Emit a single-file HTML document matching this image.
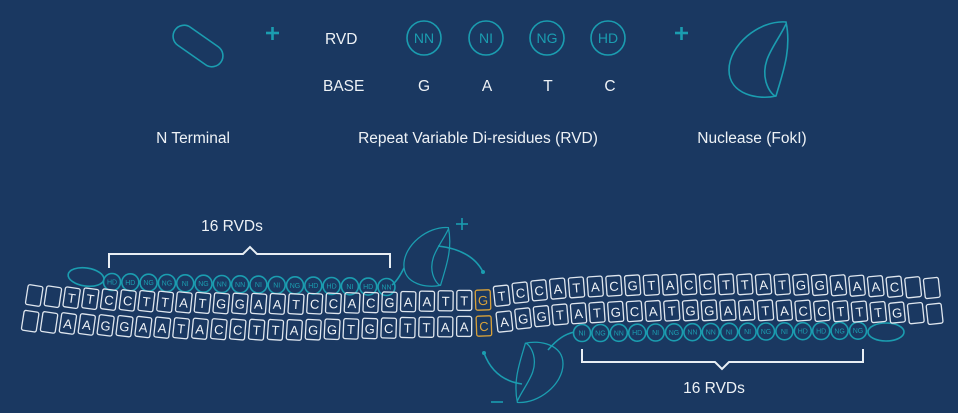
<!DOCTYPE html>
<html><head><meta charset="utf-8"><style>
html,body{margin:0;padding:0;background:#1a3861;}
svg{display:block}
text{font-family:"Liberation Sans",sans-serif;}
.w{fill:#eef2f6;font-size:15.5px}
.t{stroke:#1b9db0;fill:none;stroke-width:1.6}
.tt{fill:#1b9db0;font-size:7px;text-anchor:middle}
.c rect{fill:none;stroke:#dfe6ee;stroke-width:1.3}
.c text{fill:#eef2f6;font-size:13px;text-anchor:middle}
.c .o{stroke:#d9a23a}
.c .ot{fill:#d9a23a}
</style></head><body>
<svg width="958" height="413" viewBox="0 0 958 413" xmlns="http://www.w3.org/2000/svg">
<rect width="958" height="413" fill="#1a3861"/>
<rect x="170" y="35" width="56" height="22" rx="11" transform="rotate(35 198 46)" class="t" stroke-width="1.8"/>
<g stroke="#1b9db0" stroke-width="2.6"><line x1="266" y1="33" x2="279" y2="33"/><line x1="272.5" y1="27" x2="272.5" y2="40"/>
<line x1="675" y1="33" x2="688" y2="33"/><line x1="681.5" y1="27" x2="681.5" y2="40"/></g>
<text x="325" y="44" class="w">RVD</text>
<text x="323" y="91" class="w">BASE</text>
<g class="t" stroke-width="1.8"><circle cx="424" cy="38" r="17"/><circle cx="486" cy="38" r="17"/><circle cx="547" cy="38" r="17"/><circle cx="608" cy="38" r="17"/></g>
<g fill="#1b9db0" font-size="14" text-anchor="middle"><text x="424" y="43">NN</text><text x="486" y="43">NI</text><text x="547" y="43">NG</text><text x="608" y="43">HD</text></g>
<g class="w" text-anchor="middle"><text x="424" y="91">G</text><text x="487" y="91">A</text><text x="548" y="91">T</text><text x="610" y="91">C</text></g>
<g transform="translate(724,20)" class="t" stroke-width="1.8"><path d="M62,2 C35,0 5,25 5,50 C5,75 35,80 52,76 C58,55 68,30 62,2 Z"/><path d="M62,4 C52,25 36,40 42,62 C45,72 50,76 52,76"/></g>
<g class="w" text-anchor="middle"><text x="193" y="143">N Terminal</text><text x="478" y="143">Repeat Variable Di-residues (RVD)</text><text x="752" y="143">Nuclease (FokI)</text></g>

<g stroke="#e8eef4" stroke-width="2" fill="none">
<polyline points="109,268 109,254 243,254 250,247 257,254 390,254 390,268"/>
<polyline points="582,349 582,362 715,362 722,369 729,362 863,362 863,349"/>
</g>
<text x="232" y="231" class="w" text-anchor="middle">16 RVDs</text>
<text x="714" y="393" class="w" text-anchor="middle">16 RVDs</text>

<g transform="translate(400,226) scale(0.78)" class="t" stroke-width="2"><path d="M62,2 C35,0 5,25 5,50 C5,75 35,80 52,76 C58,55 68,30 62,2 Z"/><path d="M62,4 C52,25 36,40 42,62 C45,72 50,76 52,76"/></g>
<path d="M404,268 C400,276 396,282 392,285" class="t"/>
<path d="M438,246 Q472,250 483,272" class="t"/><circle cx="483" cy="272" r="2" fill="#1b9db0"/>
<g stroke="#1b9db0" stroke-width="1.6"><line x1="456" y1="224" x2="468" y2="224"/><line x1="462" y1="218" x2="462" y2="230"/><line x1="491" y1="402" x2="503" y2="402"/></g>
<g transform="translate(567,404) rotate(180) scale(0.8)" class="t" stroke-width="2"><path d="M62,2 C35,0 5,25 5,50 C5,75 35,80 52,76 C58,55 68,30 62,2 Z"/><path d="M62,4 C52,25 36,40 42,62 C45,72 50,76 52,76"/></g>
<path d="M548,350 C558,338 566,334 574,332" class="t"/>
<path d="M484,353 Q494,380 522,384" class="t"/><circle cx="484" cy="353" r="2" fill="#1b9db0"/>

<ellipse cx="86" cy="277" rx="18" ry="9" transform="rotate(8 86 277)" class="t"/>
<g class="t">
<circle cx="112" cy="282" r="8.5"/><circle cx="130.3" cy="282.3" r="8.5"/><circle cx="148.6" cy="282.7" r="8.5"/><circle cx="166.9" cy="283" r="8.5"/><circle cx="185.2" cy="283.3" r="8.5"/><circle cx="203.5" cy="283.7" r="8.5"/><circle cx="221.8" cy="284" r="8.5"/><circle cx="240.1" cy="284.3" r="8.5"/><circle cx="258.4" cy="284.6" r="8.5"/><circle cx="276.7" cy="285" r="8.5"/><circle cx="295" cy="285.3" r="8.5"/><circle cx="313.3" cy="285.6" r="8.5"/><circle cx="331.6" cy="286" r="8.5"/><circle cx="349.9" cy="286.3" r="8.5"/><circle cx="368.2" cy="286.6" r="8.5"/><circle cx="386.5" cy="287" r="8.5"/>
</g>
<g class="tt">
<text x="112" y="284.5">HD</text><text x="130.3" y="284.8">HD</text><text x="148.6" y="285.2">NG</text><text x="166.9" y="285.5">NG</text><text x="185.2" y="285.8">NI</text><text x="203.5" y="286.2">NG</text><text x="221.8" y="286.5">NN</text><text x="240.1" y="286.8">NN</text><text x="258.4" y="287.1">NI</text><text x="276.7" y="287.5">NI</text><text x="295" y="287.8">NG</text><text x="313.3" y="288.1">HD</text><text x="331.6" y="288.5">HD</text><text x="349.9" y="288.8">NI</text><text x="368.2" y="289.1">HD</text><text x="386.5" y="289.5">NN</text>
</g>
<ellipse cx="886" cy="332" rx="18" ry="9" class="t"/>
<g class="t">
<circle cx="582" cy="333" r="8.5"/><circle cx="600.4" cy="333" r="8.5"/><circle cx="618.8" cy="332.8" r="8.5"/><circle cx="637.2" cy="332.7" r="8.5"/><circle cx="655.6" cy="332.5" r="8.5"/><circle cx="674" cy="332.3" r="8.5"/><circle cx="692.4" cy="332.2" r="8.5"/><circle cx="710.8" cy="332" r="8.5"/><circle cx="729.2" cy="331.8" r="8.5"/><circle cx="747.6" cy="331.7" r="8.5"/><circle cx="766" cy="331.5" r="8.5"/><circle cx="784.4" cy="331.3" r="8.5"/><circle cx="802.8" cy="331.2" r="8.5"/><circle cx="821.2" cy="331" r="8.5"/><circle cx="839.6" cy="330.8" r="8.5"/><circle cx="858" cy="330.7" r="8.5"/>
</g>
<g class="tt">
<text x="582" y="335.5">NI</text><text x="600.4" y="335.5">NG</text><text x="618.8" y="335.3">NN</text><text x="637.2" y="335.2">HD</text><text x="655.6" y="335">NI</text><text x="674" y="334.8">NG</text><text x="692.4" y="334.7">NN</text><text x="710.8" y="334.5">NN</text><text x="729.2" y="334.3">NI</text><text x="747.6" y="334.2">NI</text><text x="766" y="334">NG</text><text x="784.4" y="333.8">NI</text><text x="802.8" y="333.7">HD</text><text x="821.2" y="333.5">HD</text><text x="839.6" y="333.3">NG</text><text x="858" y="333.2">NG</text>
</g>

<g class="c">
<g transform="translate(34.2,295.5) rotate(8.9)"><rect x="-7.5" y="-10" width="15" height="20" rx="2"/><rect x="-7.5" y="16" width="15" height="20" rx="2"/></g>
<g transform="translate(52.9,296.7) rotate(8.5)"><rect x="-7.5" y="-10" width="15" height="20" rx="2"/><rect x="-7.5" y="16" width="15" height="20" rx="2"/></g>
<g transform="translate(71.6,297.7) rotate(8.2)"><rect x="-7.5" y="-10" width="15" height="20" rx="2"/><text y="5">T</text><rect x="-7.5" y="16" width="15" height="20" rx="2"/><text y="31">A</text></g>
<g transform="translate(90.3,298.7) rotate(7.8)"><rect x="-7.5" y="-10" width="15" height="20" rx="2"/><text y="5">T</text><rect x="-7.5" y="16" width="15" height="20" rx="2"/><text y="31">A</text></g>
<g transform="translate(109,299.6) rotate(7.4)"><rect x="-7.5" y="-10" width="15" height="20" rx="2"/><text y="5">C</text><rect x="-7.5" y="16" width="15" height="20" rx="2"/><text y="31">G</text></g>
<g transform="translate(127.7,300.4) rotate(7)"><rect x="-7.5" y="-10" width="15" height="20" rx="2"/><text y="5">C</text><rect x="-7.5" y="16" width="15" height="20" rx="2"/><text y="31">G</text></g>
<g transform="translate(146.4,301.2) rotate(6.7)"><rect x="-7.5" y="-10" width="15" height="20" rx="2"/><text y="5">T</text><rect x="-7.5" y="16" width="15" height="20" rx="2"/><text y="31">A</text></g>
<g transform="translate(165.1,301.8) rotate(6.3)"><rect x="-7.5" y="-10" width="15" height="20" rx="2"/><text y="5">T</text><rect x="-7.5" y="16" width="15" height="20" rx="2"/><text y="31">A</text></g>
<g transform="translate(183.8,302.4) rotate(5.9)"><rect x="-7.5" y="-10" width="15" height="20" rx="2"/><text y="5">A</text><rect x="-7.5" y="16" width="15" height="20" rx="2"/><text y="31">T</text></g>
<g transform="translate(202.5,302.9) rotate(5.6)"><rect x="-7.5" y="-10" width="15" height="20" rx="2"/><text y="5">T</text><rect x="-7.5" y="16" width="15" height="20" rx="2"/><text y="31">A</text></g>
<g transform="translate(221.2,303.3) rotate(5.2)"><rect x="-7.5" y="-10" width="15" height="20" rx="2"/><text y="5">G</text><rect x="-7.5" y="16" width="15" height="20" rx="2"/><text y="31">C</text></g>
<g transform="translate(239.9,303.6) rotate(4.8)"><rect x="-7.5" y="-10" width="15" height="20" rx="2"/><text y="5">G</text><rect x="-7.5" y="16" width="15" height="20" rx="2"/><text y="31">C</text></g>
<g transform="translate(258.6,303.8) rotate(4.4)"><rect x="-7.5" y="-10" width="15" height="20" rx="2"/><text y="5">A</text><rect x="-7.5" y="16" width="15" height="20" rx="2"/><text y="31">T</text></g>
<g transform="translate(277.3,303.9) rotate(4.1)"><rect x="-7.5" y="-10" width="15" height="20" rx="2"/><text y="5">A</text><rect x="-7.5" y="16" width="15" height="20" rx="2"/><text y="31">T</text></g>
<g transform="translate(296,304) rotate(3.7)"><rect x="-7.5" y="-10" width="15" height="20" rx="2"/><text y="5">T</text><rect x="-7.5" y="16" width="15" height="20" rx="2"/><text y="31">A</text></g>
<g transform="translate(314.7,303.7) rotate(3.3)"><rect x="-7.5" y="-10" width="15" height="20" rx="2"/><text y="5">C</text><rect x="-7.5" y="16" width="15" height="20" rx="2"/><text y="31">G</text></g>
<g transform="translate(333.4,303.3) rotate(2.9)"><rect x="-7.5" y="-10" width="15" height="20" rx="2"/><text y="5">C</text><rect x="-7.5" y="16" width="15" height="20" rx="2"/><text y="31">G</text></g>
<g transform="translate(352.1,302.9) rotate(2.6)"><rect x="-7.5" y="-10" width="15" height="20" rx="2"/><text y="5">A</text><rect x="-7.5" y="16" width="15" height="20" rx="2"/><text y="31">T</text></g>
<g transform="translate(370.8,302.5) rotate(2.2)"><rect x="-7.5" y="-10" width="15" height="20" rx="2"/><text y="5">C</text><rect x="-7.5" y="16" width="15" height="20" rx="2"/><text y="31">G</text></g>
<g transform="translate(389.5,302.1) rotate(1.8)"><rect x="-7.5" y="-10" width="15" height="20" rx="2"/><text y="5">G</text><rect x="-7.5" y="16" width="15" height="20" rx="2"/><text y="31">C</text></g>
<g transform="translate(408.2,301.6) rotate(1.4)"><rect x="-7.5" y="-10" width="15" height="20" rx="2"/><text y="5">A</text><rect x="-7.5" y="16" width="15" height="20" rx="2"/><text y="31">T</text></g>
<g transform="translate(426.9,301.2) rotate(1.1)"><rect x="-7.5" y="-10" width="15" height="20" rx="2"/><text y="5">A</text><rect x="-7.5" y="16" width="15" height="20" rx="2"/><text y="31">T</text></g>
<g transform="translate(445.6,300.8) rotate(0.7)"><rect x="-7.5" y="-10" width="15" height="20" rx="2"/><text y="5">T</text><rect x="-7.5" y="16" width="15" height="20" rx="2"/><text y="31">A</text></g>
<g transform="translate(464.3,300.4) rotate(0.3)"><rect x="-7.5" y="-10" width="15" height="20" rx="2"/><text y="5">T</text><rect x="-7.5" y="16" width="15" height="20" rx="2"/><text y="31">A</text></g>
<g transform="translate(483,300) rotate(-2)"><rect class="o" x="-7.5" y="-10" width="15" height="20" rx="2"/><text class="ot" y="5">G</text><rect class="o" x="-7.5" y="16" width="15" height="20" rx="2"/><text class="ot" y="31">C</text></g>
<g transform="translate(501.7,295.7) rotate(-6)"><rect x="-7.5" y="-10" width="15" height="20" rx="2"/><text y="5">T</text><rect x="-7.5" y="16" width="15" height="20" rx="2"/><text y="31">A</text></g>
<g transform="translate(520.4,292.6) rotate(-6)"><rect x="-7.5" y="-10" width="15" height="20" rx="2"/><text y="5">C</text><rect x="-7.5" y="16" width="15" height="20" rx="2"/><text y="31">G</text></g>
<g transform="translate(539.1,290.3) rotate(-5.5)"><rect x="-7.5" y="-10" width="15" height="20" rx="2"/><text y="5">C</text><rect x="-7.5" y="16" width="15" height="20" rx="2"/><text y="31">G</text></g>
<g transform="translate(557.8,288.6) rotate(-5)"><rect x="-7.5" y="-10" width="15" height="20" rx="2"/><text y="5">A</text><rect x="-7.5" y="16" width="15" height="20" rx="2"/><text y="31">T</text></g>
<g transform="translate(576.5,287.4) rotate(-4.5)"><rect x="-7.5" y="-10" width="15" height="20" rx="2"/><text y="5">T</text><rect x="-7.5" y="16" width="15" height="20" rx="2"/><text y="31">A</text></g>
<g transform="translate(595.2,286.5) rotate(-4)"><rect x="-7.5" y="-10" width="15" height="20" rx="2"/><text y="5">A</text><rect x="-7.5" y="16" width="15" height="20" rx="2"/><text y="31">T</text></g>
<g transform="translate(613.9,285.8) rotate(-4)"><rect x="-7.5" y="-10" width="15" height="20" rx="2"/><text y="5">C</text><rect x="-7.5" y="16" width="15" height="20" rx="2"/><text y="31">G</text></g>
<g transform="translate(632.6,285.3) rotate(-4)"><rect x="-7.5" y="-10" width="15" height="20" rx="2"/><text y="5">G</text><rect x="-7.5" y="16" width="15" height="20" rx="2"/><text y="31">C</text></g>
<g transform="translate(651.3,285) rotate(-4)"><rect x="-7.5" y="-10" width="15" height="20" rx="2"/><text y="5">T</text><rect x="-7.5" y="16" width="15" height="20" rx="2"/><text y="31">A</text></g>
<g transform="translate(670,284.7) rotate(-4)"><rect x="-7.5" y="-10" width="15" height="20" rx="2"/><text y="5">A</text><rect x="-7.5" y="16" width="15" height="20" rx="2"/><text y="31">T</text></g>
<g transform="translate(688.7,284.5) rotate(-4)"><rect x="-7.5" y="-10" width="15" height="20" rx="2"/><text y="5">C</text><rect x="-7.5" y="16" width="15" height="20" rx="2"/><text y="31">G</text></g>
<g transform="translate(707.4,284.4) rotate(-4)"><rect x="-7.5" y="-10" width="15" height="20" rx="2"/><text y="5">C</text><rect x="-7.5" y="16" width="15" height="20" rx="2"/><text y="31">G</text></g>
<g transform="translate(726.1,284.3) rotate(-4)"><rect x="-7.5" y="-10" width="15" height="20" rx="2"/><text y="5">T</text><rect x="-7.5" y="16" width="15" height="20" rx="2"/><text y="31">A</text></g>
<g transform="translate(744.8,284.3) rotate(-4.2)"><rect x="-7.5" y="-10" width="15" height="20" rx="2"/><text y="5">T</text><rect x="-7.5" y="16" width="15" height="20" rx="2"/><text y="31">A</text></g>
<g transform="translate(763.5,284.4) rotate(-4.4)"><rect x="-7.5" y="-10" width="15" height="20" rx="2"/><text y="5">A</text><rect x="-7.5" y="16" width="15" height="20" rx="2"/><text y="31">T</text></g>
<g transform="translate(782.2,284.5) rotate(-4.6)"><rect x="-7.5" y="-10" width="15" height="20" rx="2"/><text y="5">T</text><rect x="-7.5" y="16" width="15" height="20" rx="2"/><text y="31">A</text></g>
<g transform="translate(800.9,284.7) rotate(-4.8)"><rect x="-7.5" y="-10" width="15" height="20" rx="2"/><text y="5">G</text><rect x="-7.5" y="16" width="15" height="20" rx="2"/><text y="31">C</text></g>
<g transform="translate(819.6,285) rotate(-5)"><rect x="-7.5" y="-10" width="15" height="20" rx="2"/><text y="5">G</text><rect x="-7.5" y="16" width="15" height="20" rx="2"/><text y="31">C</text></g>
<g transform="translate(838.3,285.3) rotate(-5.2)"><rect x="-7.5" y="-10" width="15" height="20" rx="2"/><text y="5">A</text><rect x="-7.5" y="16" width="15" height="20" rx="2"/><text y="31">T</text></g>
<g transform="translate(857,285.7) rotate(-5.4)"><rect x="-7.5" y="-10" width="15" height="20" rx="2"/><text y="5">A</text><rect x="-7.5" y="16" width="15" height="20" rx="2"/><text y="31">T</text></g>
<g transform="translate(875.7,286.2) rotate(-5.6)"><rect x="-7.5" y="-10" width="15" height="20" rx="2"/><text y="5">A</text><rect x="-7.5" y="16" width="15" height="20" rx="2"/><text y="31">T</text></g>
<g transform="translate(894.4,286.7) rotate(-5.8)"><rect x="-7.5" y="-10" width="15" height="20" rx="2"/><text y="5">C</text><rect x="-7.5" y="16" width="15" height="20" rx="2"/><text y="31">G</text></g>
<g transform="translate(913.1,287.3) rotate(-6)"><rect x="-7.5" y="-10" width="15" height="20" rx="2"/><rect x="-7.5" y="16" width="15" height="20" rx="2"/></g>
<g transform="translate(931.8,288) rotate(-6.2)"><rect x="-7.5" y="-10" width="15" height="20" rx="2"/><rect x="-7.5" y="16" width="15" height="20" rx="2"/></g>
</g>
</svg>
</body></html>
